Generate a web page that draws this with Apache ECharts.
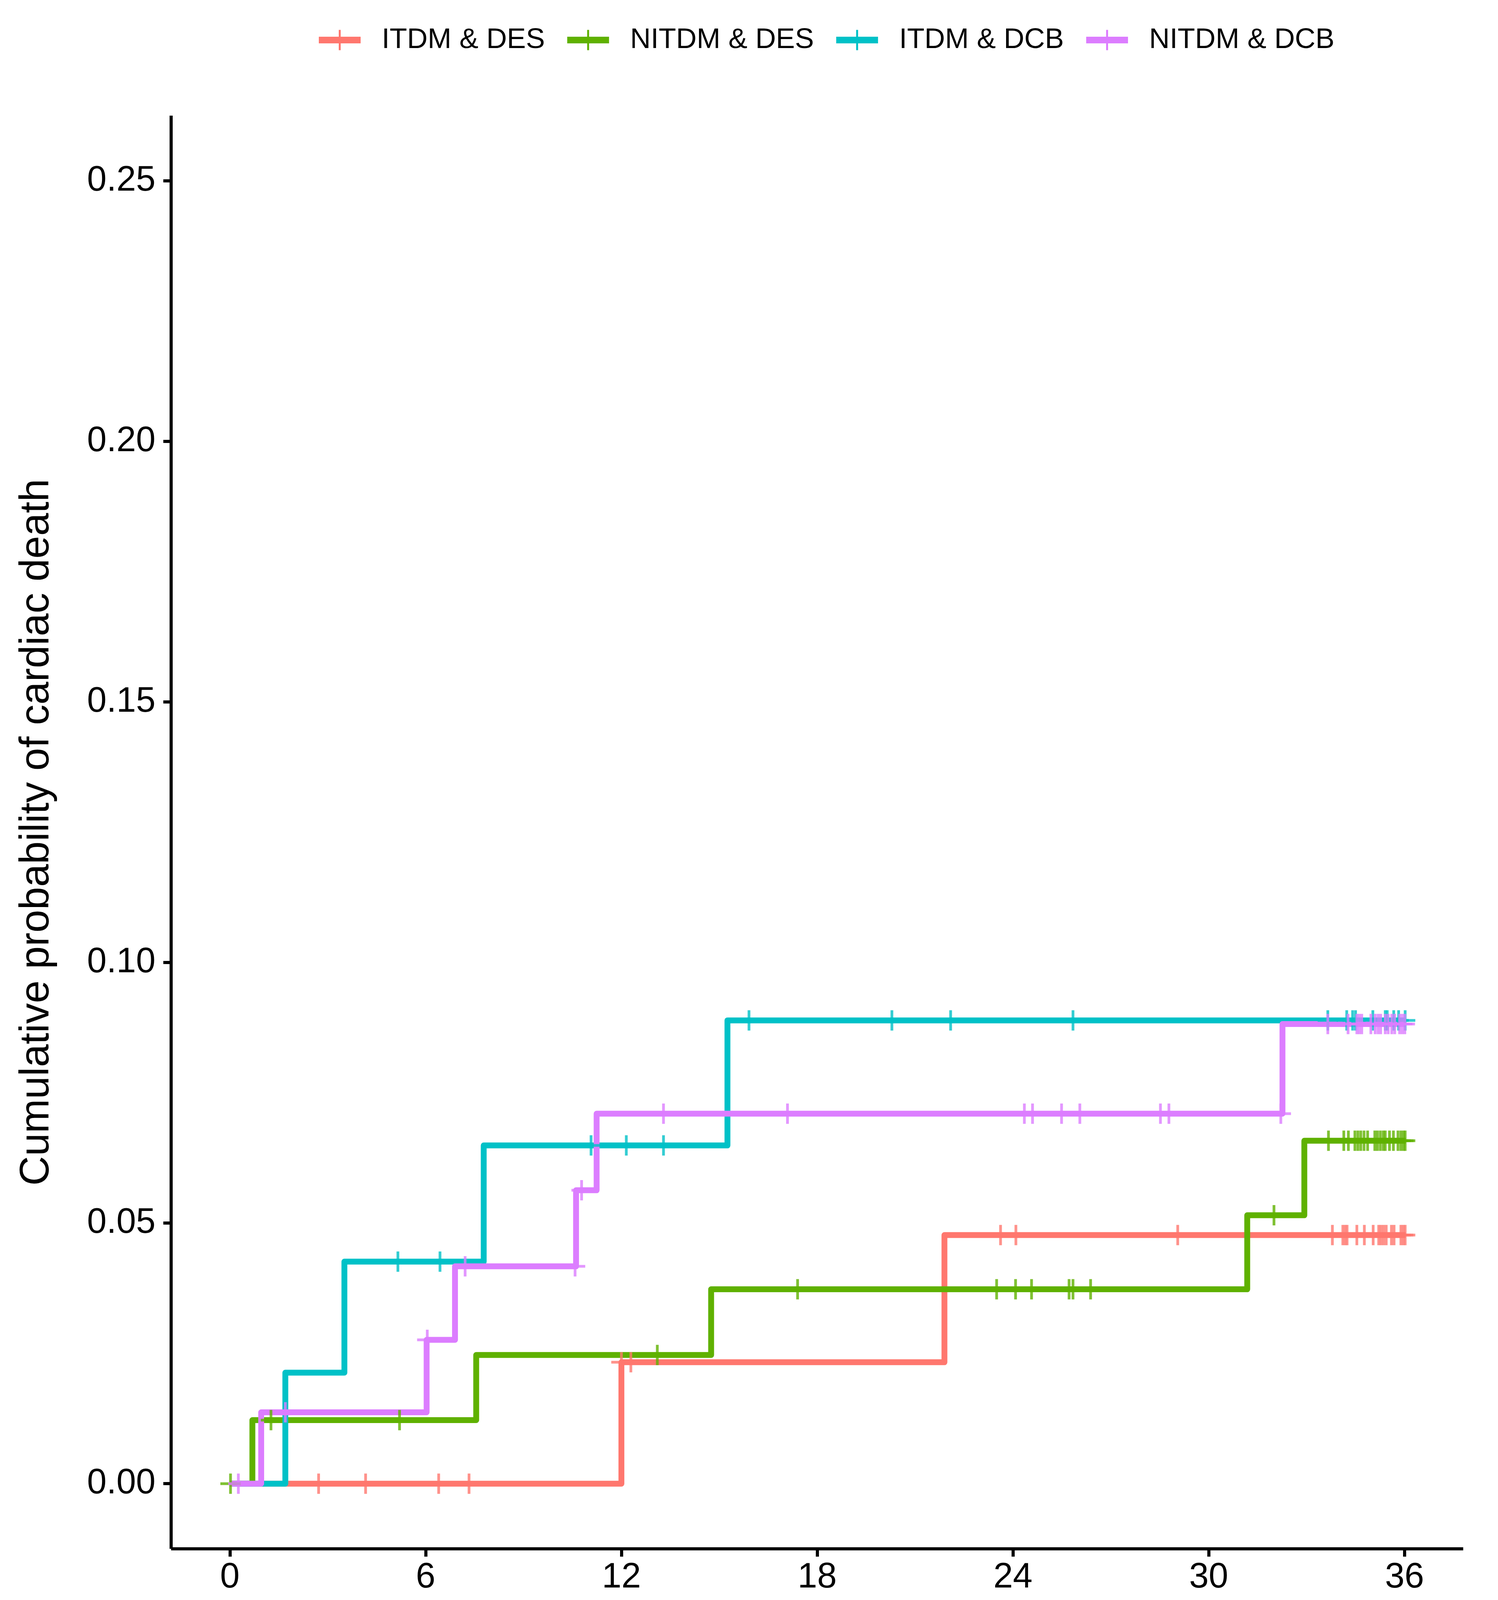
<!DOCTYPE html>
<html>
<head>
<meta charset="utf-8">
<script src="https://cdn.jsdelivr.net/npm/echarts@6/dist/echarts.min.js"></script>
<style>html,body{margin:0;padding:0;background:#fff}#c{width:3834px;height:5498px}</style>
</head>
<body>
<div id="c"></div>
<script>
// ---------- data ----------
const groupNames = ['ITDM & DES', 'NITDM & DES', 'ITDM & DCB', 'NITDM & DCB'];
const groupColors = ['#FF776E', '#5FB100', '#00C1C7', '#DC7DFF'];
const xTicks = [0, 6, 12, 18, 24, 30, 36];
const yTicks = [0, 0.05, 0.10, 0.15, 0.20, 0.25];

// step curves: [month, cumulative probability]
const itdmDesSteps = [[0, 0], [12.0, 0.0233], [21.9, 0.0477], [36.03, 0.0477]];
const nitdmDesSteps = [[0, 0], [0.69, 0.0122], [7.55, 0.0247], [14.75, 0.0373], [31.18, 0.0515], [32.93, 0.0658], [36.03, 0.0658]];
const itdmDcbSteps = [[0, 0], [1.70, 0.0213], [3.51, 0.0426], [7.78, 0.0649], [15.25, 0.0889], [36.03, 0.0889]];
const nitdmDcbSteps = [[0, 0], [0.96, 0.0137], [6.03, 0.0276], [6.90, 0.0417], [10.61, 0.0563], [11.24, 0.0710], [32.26, 0.0882], [36.03, 0.0882]];

// censor marks: [month, cumulative probability]
const itdmDesCensor = [[2.72, 0], [4.16, 0], [6.40, 0], [7.33, 0], [12.0, 0.0233], [12.29, 0.0233],
  [23.62, 0.0477], [24.09, 0.0477], [29.05, 0.0477], [33.79, 0.0477], [34.11, 0.0477], [34.18, 0.0477],
  [34.24, 0.0477], [34.54, 0.0477], [34.77, 0.0477], [35.04, 0.0477], [35.21, 0.0477], [35.28, 0.0477],
  [35.36, 0.0477], [35.44, 0.0477], [35.60, 0.0477], [35.68, 0.0477], [35.89, 0.0477], [35.96, 0.0477], [36.02, 0.0477]];
const nitdmDesCensor = [[0.02, 0], [1.26, 0.0122], [5.2, 0.0122], [13.1, 0.0247], [17.4, 0.0373], [23.5, 0.0373],
  [24.08, 0.0373], [24.57, 0.0373], [25.72, 0.0373], [25.84, 0.0373], [26.38, 0.0373], [32.0, 0.0515],
  [33.67, 0.0658], [34.14, 0.0658], [34.28, 0.0658], [34.48, 0.0658], [34.57, 0.0658], [34.66, 0.0658],
  [34.76, 0.0658], [34.87, 0.0658], [35.09, 0.0658], [35.17, 0.0658], [35.26, 0.0658], [35.35, 0.0658],
  [35.41, 0.0658], [35.54, 0.0658], [35.66, 0.0658], [35.80, 0.0658], [35.89, 0.0658], [35.97, 0.0658], [36.02, 0.0658]];
const itdmDcbCensor = [[5.15, 0.0426], [6.44, 0.0426], [11.07, 0.0649], [12.15, 0.0649], [13.29, 0.0649],
  [15.91, 0.0889], [20.29, 0.0889], [22.09, 0.0889], [25.84, 0.0889], [33.65, 0.0889], [34.23, 0.0889],
  [34.41, 0.0889], [34.50, 0.0889], [35.03, 0.0889], [35.41, 0.0889], [35.47, 0.0889], [35.67, 0.0889],
  [35.82, 0.0889], [36.02, 0.0889]];
const nitdmDcbCensor = [[0.26, 0], [1.70, 0.0137], [6.05, 0.0276], [7.21, 0.0417], [10.58, 0.0417], [10.78, 0.0563],
  [13.29, 0.0710], [17.09, 0.0710], [24.35, 0.0710], [24.60, 0.0710], [25.49, 0.0710], [26.05, 0.0710],
  [28.52, 0.0710], [28.78, 0.0710], [32.21, 0.0710], [33.65, 0.0882], [34.27, 0.0882], [34.54, 0.0882],
  [34.61, 0.0882], [34.69, 0.0882], [34.97, 0.0882], [35.10, 0.0882], [35.19, 0.0882], [35.27, 0.0882],
  [35.41, 0.0882], [35.50, 0.0882], [35.61, 0.0882], [35.70, 0.0882], [35.85, 0.0882], [35.93, 0.0882], [36.01, 0.0882]];

// number at risk
const riskTimes = [0, 6, 12, 18, 24, 30, 36];
const itdmDesRisk = [47, 45, 41, 40, 38, 36, 21];
const nitdmDesRisk = [83, 79, 78, 75, 74, 68, 33];
const itdmDcbRisk = [48, 44, 41, 37, 35, 34, 19];
const nitdmDcbRisk = [74, 71, 63, 61, 61, 55, 26];
const riskRows = [1, 2, 3, 4];

// ---------- chart ----------
const steps = [itdmDesSteps, nitdmDesSteps, itdmDcbSteps, nitdmDcbSteps];
const censors = [itdmDesCensor, nitdmDesCensor, itdmDcbCensor, nitdmDcbCensor];
const risks = [itdmDesRisk, nitdmDesRisk, itdmDcbRisk, nitdmDcbRisk];

const FONT = 'Liberation Sans';
const plusPath = 'path://M-26,-3.5L26,-3.5L26,3.5L-26,3.5Z M-3.5,-26L3.5,-26L3.5,26L-3.5,26Z';
const legendIcon = 'path://M0,17.5L107,17.5L107,34.5L0,34.5Z M51,0L56,0L56,52L51,52Z';

const axisLineStyle = { color: '#000', width: 8, cap: 'butt' };

const series = [];
groupNames.forEach((name, i) => {
  series.push({
    name: name, type: 'line', xAxisIndex: 0, yAxisIndex: 0,
    data: steps[i], step: 'end', symbol: 'none', showSymbol: false,
    lineStyle: { color: groupColors[i], width: 15, join: 'round', cap: 'butt' },
    itemStyle: { color: groupColors[i] },
    z: 2 + i, animation: false, silent: true
  });
});
groupNames.forEach((name, i) => {
  series.push({
    name: name, type: 'scatter', xAxisIndex: 0, yAxisIndex: 0,
    data: censors[i], symbol: plusPath, symbolSize: 52,
    itemStyle: { color: groupColors[i] },
    z: 10, animation: false, silent: true
  });
});
groupNames.forEach((name, i) => {
  series.push({
    name: name + ' risk', type: 'scatter', xAxisIndex: 1, yAxisIndex: 1,
    data: riskTimes.map((t, j) => [t, riskRows[i], risks[i][j]]),
    symbolSize: 1, itemStyle: { color: '#ffffff', opacity: 1 },
    label: {
      show: true, position: 'inside', color: '#000000', opacity: 1, textBorderWidth: 0,
      fontSize: 99, fontFamily: FONT,
      formatter: p => String(p.value[2])
    },
    animation: false, silent: true
  });
});

const rowRich = {};
riskRows.forEach((r, i) => {
  rowRich['g' + r] = { backgroundColor: groupColors[i], width: 189, height: 26 };
});

const option = {
  backgroundColor: '#fff',
  animation: false,
  textStyle: { fontFamily: FONT },
  title: [
    { text: 'Number at risk', left: 431, top: 4285, padding: 0,
      textStyle: { fontSize: 120, fontWeight: 'normal', color: '#000', fontFamily: FONT, lineHeight: 120 } },
    { text: '(B)', left: 1832, top: 5368, padding: 0,
      textStyle: { fontSize: 85, fontWeight: 'bold', color: '#000', fontFamily: 'Liberation Serif', lineHeight: 85 } }
  ],
  legend: {
    data: groupNames.map(n => ({ name: n, icon: legendIcon })),
    left: 816, top: 66, padding: 0,
    itemWidth: 107, itemHeight: 52, itemGap: 57,
    selectedMode: false,
    textStyle: { fontSize: 73, color: '#000', fontFamily: FONT, padding: [0, 0, 0, 49] }
  },
  grid: [
    { left: 438, right: 89, top: 296, height: 3669 },
    { left: 438, right: 89, top: 4458, height: 589 }
  ],
  xAxis: [
    {
      type: 'value', gridIndex: 0, min: -1.8, max: 37.8,
      axisLine: { show: true, onZero: false, lineStyle: axisLineStyle },
      axisTick: { show: true, length: 20, lineStyle: { color: '#000', width: 8 }, customValues: xTicks },
      axisLabel: { customValues: xTicks, fontSize: 90, color: '#000', margin: 29, fontFamily: FONT },
      splitLine: { show: false },
      name: 'Months', nameLocation: 'middle', nameGap: 134,
      nameTextStyle: { fontSize: 105, color: '#000', fontFamily: FONT }
    },
    {
      type: 'value', gridIndex: 1, min: -1.8, max: 37.8,
      axisLine: { show: true, onZero: false, lineStyle: axisLineStyle },
      axisTick: { show: true, length: 20, lineStyle: { color: '#000', width: 8 }, customValues: xTicks },
      axisLabel: { customValues: xTicks, fontSize: 90, color: '#000', margin: 31, fontFamily: FONT },
      splitLine: { show: false },
      name: 'Months', nameLocation: 'middle', nameGap: 135,
      nameTextStyle: { fontSize: 105, color: '#000', fontFamily: FONT }
    }
  ],
  yAxis: [
    {
      type: 'value', gridIndex: 0, min: -0.0125, max: 0.2625,
      axisLine: { show: true, onZero: false, lineStyle: axisLineStyle },
      axisTick: { show: true, length: 20, lineStyle: { color: '#000', width: 8 }, customValues: yTicks },
      axisLabel: { customValues: yTicks, fontSize: 90, color: '#000', margin: 40, fontFamily: FONT,
        formatter: v => Number(v).toFixed(2) },
      splitLine: { show: false },
      name: 'Cumulative probability of cardiac death', nameLocation: 'middle', nameGap: 290, nameRotate: 90,
      nameTextStyle: { fontSize: 105, color: '#000', fontFamily: FONT }
    },
    {
      type: 'value', gridIndex: 1, min: 0.4, max: 4.6, inverse: true,
      axisLine: { show: true, onZero: false, lineStyle: axisLineStyle },
      axisTick: { show: false },
      axisLabel: { customValues: riskRows, margin: 56, formatter: v => '{g' + Math.round(v) + '|}', rich: rowRich },
      splitLine: { show: false }
    }
  ],
  series: series
};

const chart = echarts.init(document.getElementById('c'), null, { renderer: 'canvas', width: 3834, height: 5498 });
chart.setOption(option);
</script>
</body>
</html>
